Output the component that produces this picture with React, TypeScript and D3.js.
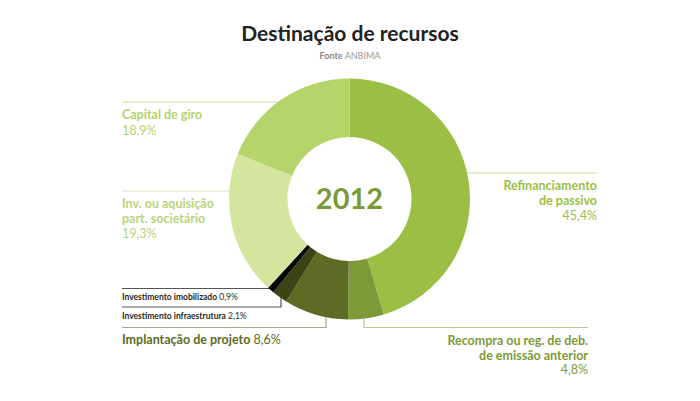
import React from "react";
import * as d3 from "d3";

const categories = [
  "Refinanciamento de passivo",
  "Recompra ou reg. de deb. de emissão anterior",
  "Implantação de projeto",
  "Investimento infraestrutura",
  "Investimento imobilizado",
  "Inv. ou aquisição part. societário",
  "Capital de giro",
];
const values = [45.4, 4.8, 8.6, 2.1, 0.9, 19.3, 18.9];
const valueLabels = ["45,4%", "4,8%", "8,6%", "2,1%", "0,9%", "19,3%", "18,9%"];
const sliceColors = ["#9bbf45", "#7c9b38", "#5d6b24", "#3b4414", "#050505", "#d4e59e", "#b5d46a"];
const titleText = "Destinação de recursos";
const sourceLabel = "Fonte";
const sourceName = "ANBIMA";
const centerLabel = "2012";

const W = 700, H = 401;
const cx = 349.5, cy = 199, rOuter = 120.5, rInner = 62;
const FONT = "Lato, 'Open Sans', sans-serif";

export default function App() {
  const pie = d3.pie<number>().sort(null).value((d) => d)(values);
  const arc = d3.arc<d3.PieArcDatum<number>>().innerRadius(rInner).outerRadius(rOuter);

  const arcX = (y: number, side: number) => cx + side * Math.sqrt(rOuter * rOuter - (y - cy) * (y - cy));
  const arcY = (x: number) => cy + Math.sqrt(rOuter * rOuter - (x - cx) * (x - cx));

  const big = 12.5;
  return (
    <svg width={W} height={H} style={{ position: "absolute", left: 0, top: 0, background: "#fff" }} fontFamily={FONT}>
      <text x={350} y={41} textAnchor="middle" fontSize={21} fontWeight={700} fill="#222">{titleText}</text>
      <text x={350} y={59} textAnchor="middle" fontSize={9} fill="#999">
        <tspan fontWeight={700} fill="#888">{sourceLabel}</tspan> {sourceName}
      </text>

      {/* leader lines */}
      <g fill="none" strokeWidth={1.2}>
        <line x1={122} x2={arcX(102, -1)} y1={102} y2={102} stroke="#cfe2a0" />
        <line x1={122} x2={arcX(191, -1)} y1={191} y2={191} stroke="#dce8bb" />
        <line x1={arcX(173, 1)} x2={597} y1={173} y2={173} stroke="#c2da90" />
        <polyline points={`364,${arcY(364)} 364,327.5 588,327.5`} stroke="#b9ca94" />
        <polyline points={`326,${arcY(326)} 326,327.5 122,327.5`} stroke="#a4ab82" />
        <polyline points={`122,288.5 281,288.5 281,307 122,307`} stroke="#555" />
      </g>

      <g transform={`translate(${cx},${cy})`}>
        {pie.map((p, i) => (
          <path key={categories[i]} d={arc(p) || ""} fill={sliceColors[i]} />
        ))}
        <text x={0} y={10} textAnchor="middle" fontSize={29} fontWeight={700} fill="#7a9a38">{centerLabel}</text>
      </g>

      {/* labels */}
      <g fontSize={big}>
        <text x={122} y={119} fill="#b5d36b" fontWeight={700}>Capital de giro</text>
        <text x={122} y={135} fill="#b5d36b">{valueLabels[6]}</text>

        <text x={122} y={208} fill="#b9d47c" fontWeight={700}>Inv. ou aquisição</text>
        <text x={122} y={223} fill="#b9d47c" fontWeight={700}>part. societário</text>
        <text x={122} y={238} fill="#b9d47c">{valueLabels[5]}</text>

        <text x={597} y={190} textAnchor="end" fill="#9bbf45" fontWeight={700}>Refinanciamento</text>
        <text x={597} y={205} textAnchor="end" fill="#9bbf45" fontWeight={700}>de passivo</text>
        <text x={597} y={220} textAnchor="end" fill="#9bbf45">{valueLabels[0]}</text>

        <text x={588} y={345} textAnchor="end" fill="#7c9b38" fontWeight={700}>Recompra ou reg. de deb.</text>
        <text x={588} y={359.5} textAnchor="end" fill="#7c9b38" fontWeight={700}>de emissão anterior</text>
        <text x={588} y={374} textAnchor="end" fill="#7c9b38">{valueLabels[1]}</text>

        <text x={122} y={344} fill="#5d6b24">
          <tspan fontWeight={700}>{categories[2]}</tspan> {valueLabels[2]}
        </text>
      </g>
      <g fontSize={8.5} fill="#2a2a1a">
        <text x={122} y={300}>
          <tspan fontWeight={700}>{categories[4]}</tspan> {valueLabels[4]}
        </text>
        <text x={122} y={319}>
          <tspan fontWeight={700}>{categories[3]}</tspan> {valueLabels[3]}
        </text>
      </g>
    </svg>
  );
}
